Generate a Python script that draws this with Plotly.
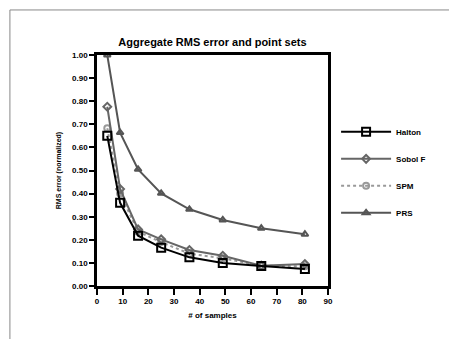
import plotly.graph_objects as go

samples = [4, 9, 16, 25, 36, 49, 64, 81]
halton = [0.65, 0.36, 0.218, 0.166, 0.124, 0.100, 0.087, 0.074]
sobol_f = [0.776, 0.42, 0.245, 0.202, 0.156, 0.131, 0.088, 0.095]
spm = [0.683, 0.40, 0.235, 0.190, 0.140, 0.120, 0.088, 0.085]
prs = [1.00, 0.664, 0.505, 0.401, 0.332, 0.286, 0.250, 0.224]

names = ["Halton", "Sobol F", "SPM", "PRS"]
series = [halton, sobol_f, spm, prs]
colors = ["#000000", "#666666", "#999999", "#555555"]
dashes = ["solid", "solid", "dot", "solid"]
symbols = ["square-open", "diamond-open", "circle-open", "triangle-up-open"]
msizes = [8, 6, 6, 6]

fig = go.Figure()
order = [3, 2, 1, 0]
for i in order:
    fig.add_trace(go.Scatter(
        x=samples, y=series[i], name=names[i], mode="lines+markers",
        legendgroup=names[i], legendrank=i + 1,
        line=dict(color=colors[i], width=2, dash=dashes[i]),
        marker=dict(symbol=symbols[i], size=msizes[i], color=colors[i],
                    line=dict(width=2, color=colors[i])),
    ))

font = "Liberation Sans"
bfont = dict(size=8, family=font, color="black", weight="bold")
fig.update_layout(
    width=449, height=331,
    margin=dict(l=89, r=129, t=47, b=53),
    paper_bgcolor="white", plot_bgcolor="white",
    font=dict(family=font, size=8, color="black", weight="bold"),
    title=dict(text="Aggregate RMS error and point sets", x=0.5,
               xref="paper", xanchor="center", y=1 - 34 / 331, yanchor="middle",
               font=dict(size=11, family=font, color="black", weight="bold")),
    showlegend=True,
    legend=dict(x=1.035, y=0.73, xanchor="left", yanchor="top",
                font=bfont, tracegroupgap=8,
                itemwidth=50, bgcolor="rgba(0,0,0,0)"),
    shapes=[dict(type="rect", xref="paper", yref="paper",
                 x0=-0.377, x1=1.6, y0=-0.3, y1=1.195,
                 line=dict(color="#888888", width=1), layer="below")],
)
fig.update_xaxes(range=[0, 90], dtick=10, tick0=0, showline=True, linewidth=2.5,
                 linecolor="black", mirror=True, ticks="outside", ticklen=6,
                 tickwidth=2, tickcolor="black", showgrid=False, zeroline=False,
                 tickfont=bfont,
                 title=dict(text="# of samples", font=bfont, standoff=8))
fig.update_yaxes(range=[0, 1.0], dtick=0.1, tick0=0, tickformat=".2f", showline=True,
                 linewidth=2.5, linecolor="black", mirror=True, ticks="outside",
                 ticklen=5, tickwidth=2, tickcolor="black", showgrid=False,
                 zeroline=False, tickfont=bfont,
                 title=dict(text="RMS error (normalized)",
                            font=dict(size=7, family=font, color="black", weight="bold"),
                            standoff=10))
fig.write_html("out.html")
